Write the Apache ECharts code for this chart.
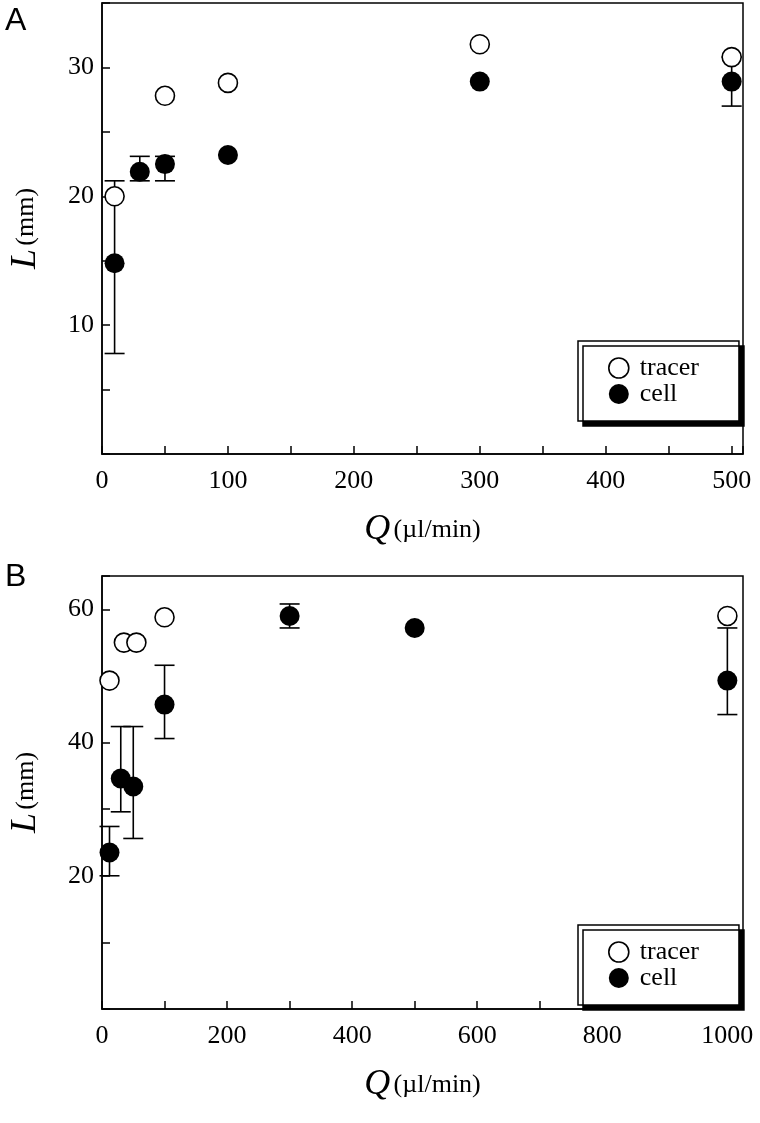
<!DOCTYPE html>
<html>
<head>
<meta charset="utf-8">
<script src="https://cdn.jsdelivr.net/npm/echarts@6/dist/echarts.min.js"></script>
<style>
  html, body { margin: 0; padding: 0; background: #fff; }
  #chart { width: 760px; height: 1123px; }
</style>
</head>
<body>
<div id="chart"></div>
<script>
// panel A
const tracerA = [[10, 20], [50, 27.8], [100, 28.8], [300, 31.8], [500, 30.8]];
const cellA = [[10, 14.8], [30, 21.9], [50, 22.5], [100, 23.2], [300, 28.9], [500, 28.9]];
// [x, low, high]
const errA = [[10, 7.8, 21.2], [30, 21.2, 23.1], [50, 21.2, 23.1], [500, 27.0, 30.8]];

// panel B
const tracerB = [[12, 49.3], [35, 55], [55, 55], [100, 58.8], [1000, 59]];
const cellB = [[12, 23.5], [30, 34.6], [50, 33.4], [100, 45.7], [300, 59], [500, 57.2], [1000, 49.3]];
const errB = [[12, 20, 27.4], [30, 29.6, 42.4], [50, 25.6, 42.4], [100, 40.6, 51.6], [300, 57.2, 60.8], [1000, 44.2, 57.2]];

const labelsA = { x: [0, 100, 200, 300, 400, 500], y: [10, 20, 30] };
const labelsB = { x: [0, 200, 400, 600, 800, 1000], y: [20, 40, 60] };

const serif = 'Liberation Serif';
const chart = echarts.init(document.getElementById('chart'));

function errorSeries(data, xi, yi) {
  return {
    type: 'custom', xAxisIndex: xi, yAxisIndex: yi, z: 1,
    data: data,
    renderItem: function (params, api) {
      const x = api.value(0);
      const lo = api.coord([x, api.value(1)]);
      const hi = api.coord([x, api.value(2)]);
      const w = 10;
      const st = { stroke: '#000', lineWidth: 1.6 };
      return {
        type: 'group', children: [
          { type: 'line', shape: { x1: lo[0], y1: lo[1], x2: hi[0], y2: hi[1] }, style: st },
          { type: 'line', shape: { x1: lo[0] - w, y1: lo[1], x2: lo[0] + w, y2: lo[1] }, style: st },
          { type: 'line', shape: { x1: hi[0] - w, y1: hi[1], x2: hi[0] + w, y2: hi[1] }, style: st }
        ]
      };
    }
  };
}

const nameRich = {
  i: { fontFamily: serif, fontStyle: 'italic', fontSize: 36, color: '#000' },
  n: { fontFamily: serif, fontSize: 26, color: '#000' }
};

function xAxis(gi, max, interval, labels) {
  return {
    gridIndex: gi, type: 'value', min: 0, max: max, interval: interval,
    name: '{i|Q} {n|(µl/min)}', nameLocation: 'middle', nameGap: 58,
    nameTextStyle: { rich: nameRich },
    axisLine: { lineStyle: { color: '#000', width: 1.5 } },
    axisTick: { inside: true, length: 8, lineStyle: { color: '#000', width: 1.5 } },
    axisLabel: { fontFamily: serif, fontSize: 26, color: '#000', margin: 14,
      formatter: v => labels.includes(v) ? String(v) : '' },
    splitLine: { show: false }
  };
}

function yAxis(gi, max, interval, labels) {
  return {
    gridIndex: gi, type: 'value', min: 0, max: max, interval: interval,
    name: '{i|L} {n|(mm)}', nameLocation: 'middle', nameGap: 58,
    nameTextStyle: { rich: nameRich },
    axisLine: { lineStyle: { color: '#000', width: 1.5 } },
    axisTick: { inside: true, length: 8, lineStyle: { color: '#000', width: 1.5 } },
    axisLabel: { fontFamily: serif, fontSize: 26, color: '#000', margin: 8,
      formatter: v => labels.includes(v) ? String(v) : '' },
    splitLine: { show: false }
  };
}

const openStyle = { color: '#fff', borderColor: '#000', borderWidth: 1.6, opacity: 1 };
const fillStyle = { color: '#000', opacity: 1 };

function legend(top) {
  return {
    orient: 'vertical', left: 578, top: top, width: 157,
    data: [{ name: 'tracer', itemStyle: openStyle }, { name: 'cell', itemStyle: fillStyle }],
    icon: 'circle', itemWidth: 20, itemHeight: 20, itemGap: 0,
    padding: [14, 40, 14, 30],
    backgroundColor: '#fff', borderColor: '#000', borderWidth: 1.5,
    shadowColor: '#000', shadowBlur: 0, shadowOffsetX: 5, shadowOffsetY: 5,
    textStyle: { fontFamily: serif, fontSize: 26, color: '#000', padding: [0, 0, 0, 6] }
  };
}

chart.setOption({
  animation: false,
  title: [
    { text: 'A', left: 0, top: 0, textStyle: { fontFamily: 'Liberation Sans', fontSize: 32, fontWeight: 'normal', color: '#000' } },
    { text: 'B', left: 0, top: 556, textStyle: { fontFamily: 'Liberation Sans', fontSize: 32, fontWeight: 'normal', color: '#000' } }
  ],
  grid: [
    { left: 92, right: 17, top: 3, height: 451, show: true, borderColor: '#000', borderWidth: 1.5 },
    { left: 92, right: 17, top: 576, height: 433, show: true, borderColor: '#000', borderWidth: 1.5 }
  ],
  xAxis: [xAxis(0, 509, 50, labelsA.x), xAxis(1, 1025, 100, labelsB.x)],
  yAxis: [yAxis(0, 35, 5, labelsA.y), yAxis(1, 65, 10, labelsB.y)],
  legend: [legend(341), legend(925)],
  series: [
    errorSeries(errA, 0, 0),
    { name: 'tracer', type: 'scatter', xAxisIndex: 0, yAxisIndex: 0, data: tracerA, symbolSize: 19, itemStyle: openStyle, z: 2 },
    { name: 'cell', type: 'scatter', xAxisIndex: 0, yAxisIndex: 0, data: cellA, symbolSize: 20, itemStyle: fillStyle, z: 3 },
    errorSeries(errB, 1, 1),
    { name: 'tracer', type: 'scatter', xAxisIndex: 1, yAxisIndex: 1, data: tracerB, symbolSize: 19, itemStyle: openStyle, z: 2 },
    { name: 'cell', type: 'scatter', xAxisIndex: 1, yAxisIndex: 1, data: cellB, symbolSize: 20, itemStyle: fillStyle, z: 3 }
  ]
});
</script>
</body>
</html>
